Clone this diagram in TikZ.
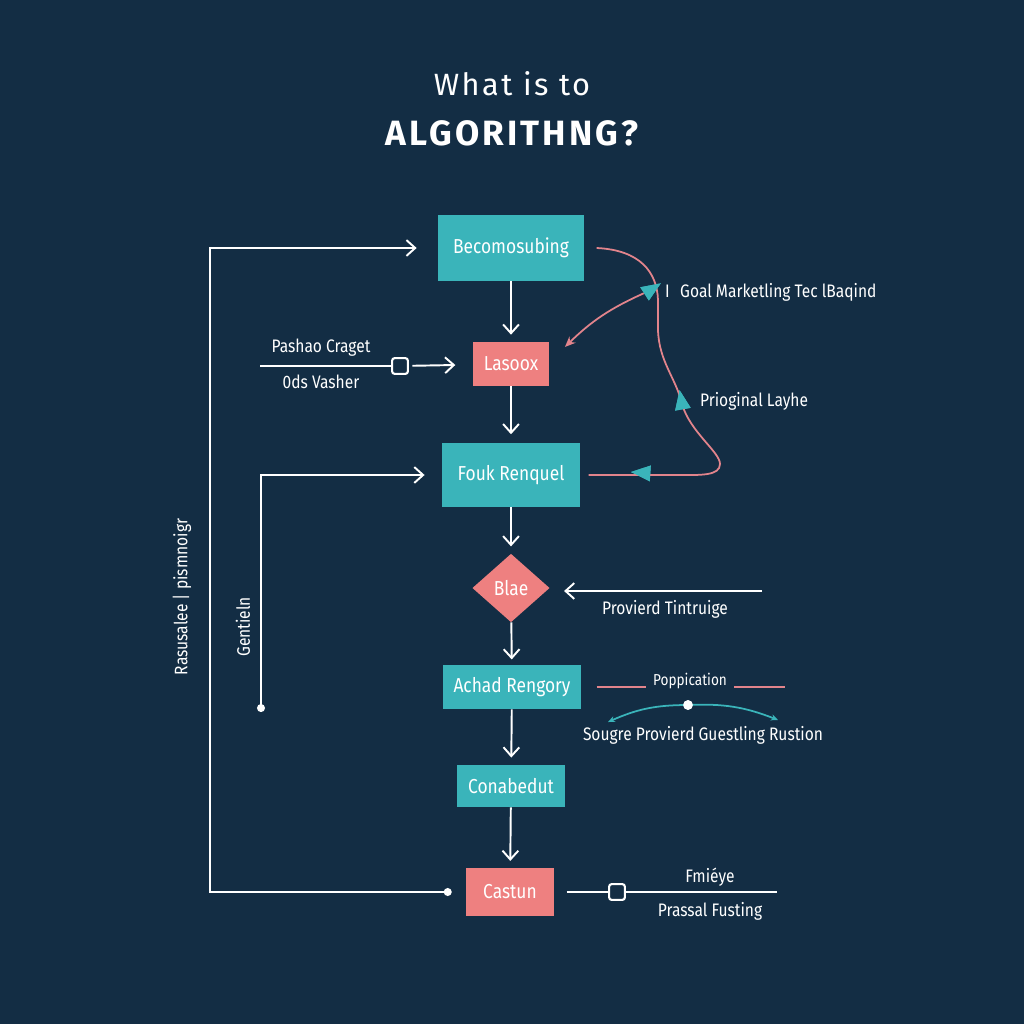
\documentclass[tikz,border=0pt]{standalone}
\usepackage{fontspec}
\setmainfont{Fira Sans}
\newfontfamily\condfont{Fira Sans}[FakeStretch=0.86]
\usetikzlibrary{arrows.meta,shapes.geometric}
\definecolor{navy}{RGB}{19,45,68}
\definecolor{tealbox}{RGB}{58,180,186}
\definecolor{salmon}{RGB}{238,128,128}
\definecolor{pinkline}{RGB}{226,132,140}
\begin{document}
\begin{tikzpicture}[x=0.02cm, y=-0.02cm,
			box/.style={rectangle, fill=tealbox, text=white, inner sep=0pt, font=\condfont\fontsize{11.5}{13}\selectfont},
			redbox/.style={box, fill=salmon},
			choice/.style={diamond, fill=salmon, text=white, inner sep=0pt, minimum width=44pt, minimum height=39pt, font=\condfont\fontsize{11.5}{13}\selectfont},
			flow/.style={white, line width=1.1pt, -{Straight Barb[length=5pt, width=9pt]}},
			link/.style={white, line width=1.1pt},
			note/.style={text=white, inner sep=1pt, font=\condfont\fontsize{10.3}{11}\selectfont},
			curve/.style={pinkline, line width=1pt},
			marker/.style={isosceles triangle, isosceles triangle stretches, fill=tealbox, inner sep=0pt, minimum height=11pt, minimum width=9pt},
			icon/.style={rectangle, rounded corners=1.5pt, draw=white, line width=1.2pt, minimum size=9pt, inner sep=0pt}
		]
		\fill[navy] (0,0) rectangle (1024,1024);
		\useasboundingbox (0,0) rectangle (1024,1024);

		% Titel
		\node[text=white, font=\addfontfeatures{LetterSpace=8}\fontsize{17.5}{20}\selectfont] (title) at (512,84) {What is to};
		\node[text=white, font=\addfontfeatures{LetterSpace=9}\bfseries\fontsize{20}{22}\selectfont] (subtitle) at (512,133) {ALGORITHNG?};

		% Knoten
		\node[box, minimum width=83pt, minimum height=37pt] (becom) at (511,248) {Becomosubing};
		\node[redbox, minimum width=43pt, minimum height=25pt] (lasoox) at (511,364) {Lasoox};
		\node[box, minimum width=78pt, minimum height=36pt] (fouk) at (511,475) {Fouk Renquel};
		\node[choice] (blae) at (511,588) {Blae};
		\node[box, minimum width=79pt, minimum height=25pt] (achad) at (512,687) {Achad Rengory};
		\node[box, minimum width=61pt, minimum height=24pt] (conab) at (511,786) {Conabedut};
		\node[redbox, minimum width=50pt, minimum height=27pt] (castun) at (510,892) {Castun};

		% Hauptfluss
		\draw[flow, shorten >=4pt] (becom) -- (lasoox);
		\draw[flow, shorten >=5pt] (lasoox) -- (fouk);
		\draw[flow, shorten >=4pt] (fouk) -- (blae);
		\draw[flow, shorten >=3pt] (blae) -- (achad);
		\draw[flow, shorten >=4pt] (achad) -- (conab);
		\draw[flow, shorten >=4pt] (conab) -- (castun);

		% Rueckfuehrungen links
		\coordinate (outerleft) at (210,0);
		\draw[flow, {Circle[length=4.5pt]}-{Straight Barb[length=5pt, width=9pt]}, shorten <=8pt, shorten >=12pt]
			(castun.west) -- (castun.west -| outerleft) -- (becom.west -| outerleft) -- (becom.west);
		\node[note, rotate=90] (sidenote) at (182,597) {Rasusalee | pismnoigr};

		\coordinate (geninput) at (261,712);
		\draw[flow, {Circle[length=4.5pt]}-{Straight Barb[length=5pt, width=9pt]}, shorten >=10pt] (geninput) |- (fouk.west);
		\node[note, rotate=90] (gennote) at (243,627) {Gentieln};

		% Eingang links
		\coordinate (padin) at (260,366);
		\node[icon] (padicon) at (400,366) {};
		\draw[link] (padin) -- (padicon);
		\draw[flow, shorten <=2pt, shorten >=10pt] (padicon) -- (lasoox);
		\node[note] (padtop) at (321,348) {Pashao Craget};
		\node[note] (padbot) at (321,382) {0ds Vasher};

		% Rechte Schleife
		\node[marker, rotate=33] (mkgoal) at (649,291) {};
		\node[marker, rotate=100] (mkup) at (682,404) {};
		\node[marker, rotate=176] (mkleft) at (645,473) {};
		\draw[curve] ([xshift=7pt]becom.east) .. controls (640,250) and (657,272) .. (658,300)
			-- (658,330) .. controls (659,362) and (676,378) .. (mkup.center)
			.. controls (690,432) and (720,452) .. (720,464) .. controls (720,476) and (700,475) .. (680,475)
			-- ([xshift=5pt]fouk.east);
		\draw[curve, {Stealth[length=6pt, width=5pt]}-] ([xshift=9pt, yshift=-3pt]lasoox.north east) to[bend left=10] (mkgoal);
		\node[marker, rotate=33] at (mkgoal) {};
		\node[marker, rotate=100] at (mkup) {};
		\node[marker, rotate=176] at (mkleft) {};
		\node[note, anchor=west] (goalnote) at (663,292) {I\hspace{6pt}Goal Marketling Tec lBaqind};
		\node[note, anchor=west] (layernote) at (698,401) {Prioginal Layhe};

		% Eingang Raute
		\coordinate (provin) at (762,591);
		\draw[flow, shorten >=8pt] (provin) -- (provin -| blae.east);
		\node[note] (provnote) at (665,609) {Provierd Tintruige};

		% Beschriftung Achad
		\node[note, font=\condfont\fontsize{9}{10}\selectfont] (popnote) at (690,681) {Poppication};
		\draw[curve] ([xshift=8.5pt]achad.east) -- ([xshift=-3pt]popnote.west |- achad.east);
		\draw[curve] ([xshift=3pt]popnote.east |- achad.east) -- ++(51,0);
		\coordinate (arcleft) at (608,722);
		\coordinate (arcright) at (778,720);
		\node[circle, fill=white, inner sep=0pt, minimum size=5.5pt] (popdot) at (688,705) {};
		\draw[tealbox, line width=1pt, {Stealth[length=4pt, width=3.5pt]}-{Stealth[length=4pt, width=3.5pt]}]
			(arcleft) to[bend left=12] (popdot.center) to[bend left=12] (arcright);
		\node[circle, fill=white, inner sep=0pt, minimum size=5.5pt] at (popdot) {};
		\node[note] (sourcenote) at (703,735) {Sougre Provierd Guestling Rustion};

		% Ausgang Castun
		\node[icon] (casicon) at (617,892) {};
		\draw[link, shorten <=7pt] (castun.east) -- (casicon);
		\draw[link] (casicon) -- (777,892);
		\node[note] (castop) at (710,877) {Fmiéye};
		\node[note] (casbot) at (710,911) {Prassal Fusting};
	\end{tikzpicture}
\end{document}
